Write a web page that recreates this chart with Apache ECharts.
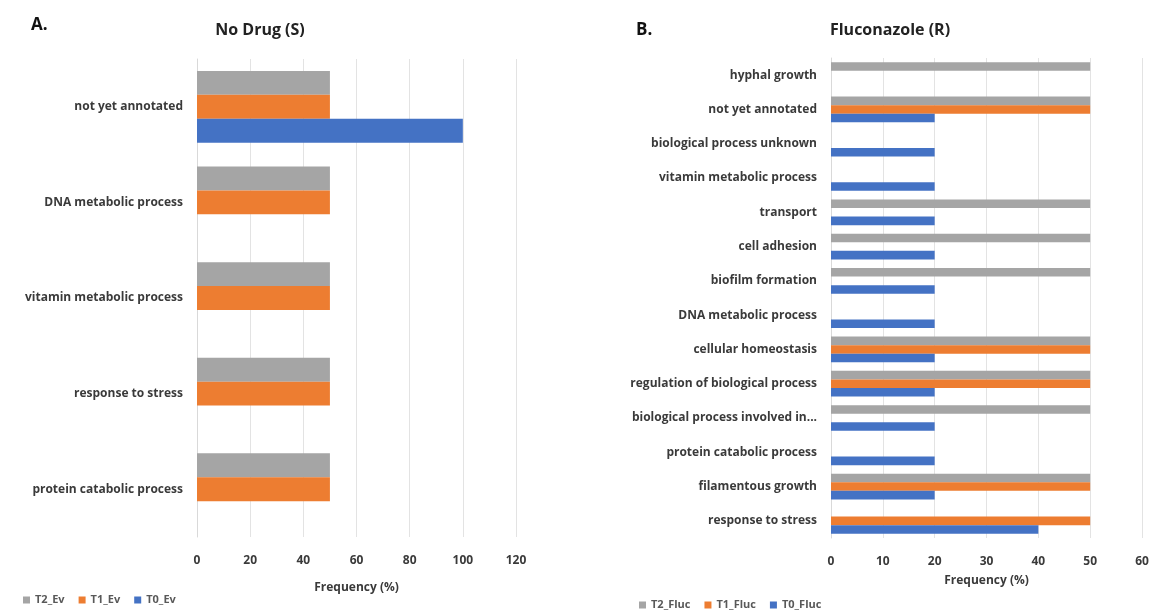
<!DOCTYPE html>
<html>
<head>
<meta charset="utf-8">
<script src="https://cdn.jsdelivr.net/npm/echarts@6/dist/echarts.min.js"></script>
<style>
  html, body { margin: 0; padding: 0; background: #fff; }
  #chart { width: 1156px; height: 612px; }
</style>
</head>
<body>
<div id="chart"></div>
<script>
// Panel A: No Drug (S)
const catsA = ['not yet annotated', 'DNA metabolic process', 'vitamin metabolic process', 'response to stress', 'protein catabolic process'];
const t2Ev = [50, 50, 50, 50, 50];
const t1Ev = [50, 50, 50, 50, 50];
const t0Ev = [100, 0, 0, 0, 0];
const ticksA = { min: 0, max: 120, interval: 20 };

// Panel B: Fluconazole (R)
const catsB = ['hyphal growth', 'not yet annotated', 'biological process unknown', 'vitamin metabolic process',
  'transport', 'cell adhesion', 'biofilm formation', 'DNA metabolic process', 'cellular homeostasis',
  'regulation of biological process', 'biological process involved in...', 'protein catabolic process',
  'filamentous growth', 'response to stress'];
const t2Fluc = [50, 50, 0, 0, 50, 50, 50, 0, 50, 50, 50, 0, 50, 0];
const t1Fluc = [0, 50, 0, 0, 0, 0, 0, 0, 50, 50, 0, 0, 50, 50];
const t0Fluc = [0, 20, 20, 20, 20, 20, 20, 20, 20, 20, 20, 20, 20, 40];
const ticksB = { min: 0, max: 60, interval: 10 };

const GRAY = '#A5A5A5', ORANGE = '#ED7D31', BLUE = '#4472C4';
const FONT = 'Open Sans';
const labelStyle = { fontFamily: FONT, fontWeight: 'bold', fontSize: 12, color: '#3a3a3a' };

function valueAxis(gridIndex, t, nameGap) {
  return {
    type: 'value', gridIndex, min: t.min, max: t.max, interval: t.interval,
    name: 'Frequency (%)', nameLocation: 'middle', nameGap,
    nameTextStyle: { fontFamily: FONT, fontWeight: 'bold', fontSize: 12, color: '#3a3a3a' },
    axisLine: { show: false }, axisTick: { show: false },
    axisLabel: Object.assign({ margin: 18 }, labelStyle),
    splitLine: { lineStyle: { color: '#e3e3e3', width: 1 } }
  };
}
function catAxis(gridIndex, cats) {
  return {
    type: 'category', gridIndex, data: cats, inverse: true,
    axisLine: { lineStyle: { color: '#d9d9d9' } }, axisTick: { show: false },
    axisLabel: Object.assign({ margin: 14 }, labelStyle)
  };
}
function bar(name, data, color, idx) {
  return {
    type: 'bar', name, data, xAxisIndex: idx, yAxisIndex: idx,
    barGap: '0%', barCategoryGap: '25%',
    itemStyle: { color }, emphasis: { disabled: true }, silent: true
  };
}
const legendText = { fontFamily: FONT, fontWeight: 'bold', fontSize: 11, lineHeight: 12, color: '#595959', padding: [0, 0, 0, 0] };

const chart = echarts.init(document.getElementById('chart'), null, { renderer: 'canvas' });
chart.setOption({
  animation: false,
  backgroundColor: '#fff',
  title: [
    { text: 'A.', left: 26, top: 12, textStyle: { fontFamily: FONT, fontWeight: 'bold', fontSize: 17, color: '#111' } },
    { text: 'No Drug (S)', left: 255, top: 17, textAlign: 'center', textStyle: { fontFamily: FONT, fontWeight: 'bold', fontSize: 16, color: '#222' } },
    { text: 'B.', left: 631, top: 17, textStyle: { fontFamily: FONT, fontWeight: 'bold', fontSize: 17, color: '#111' } },
    { text: 'Fluconazole (R)', left: 885, top: 17, textAlign: 'center', textStyle: { fontFamily: FONT, fontWeight: 'bold', fontSize: 16, color: '#222' } }
  ],
  legend: [
    { data: ['T2_Ev', 'T1_Ev', 'T0_Ev'], left: 18, top: 589, itemWidth: 7, itemHeight: 7, itemGap: 14,
      selectedMode: false, icon: 'rect', textStyle: legendText },
    { data: ['T2_Fluc', 'T1_Fluc', 'T0_Fluc'], left: 634, top: 594, itemWidth: 7, itemHeight: 7, itemGap: 14,
      selectedMode: false, icon: 'rect', textStyle: legendText }
  ],
  grid: [
    { left: 197, width: 319, top: 59, height: 478 },
    { left: 831, width: 311, top: 58, height: 480 }
  ],
  xAxis: [valueAxis(0, ticksA, 45), valueAxis(1, ticksB, 37)],
  yAxis: [catAxis(0, catsA), catAxis(1, catsB)],
  series: [
    bar('T2_Ev', t2Ev, GRAY, 0),
    bar('T1_Ev', t1Ev, ORANGE, 0),
    bar('T0_Ev', t0Ev, BLUE, 0),
    bar('T2_Fluc', t2Fluc, GRAY, 1),
    bar('T1_Fluc', t1Fluc, ORANGE, 1),
    bar('T0_Fluc', t0Fluc, BLUE, 1)
  ]
});
</script>
</body>
</html>
